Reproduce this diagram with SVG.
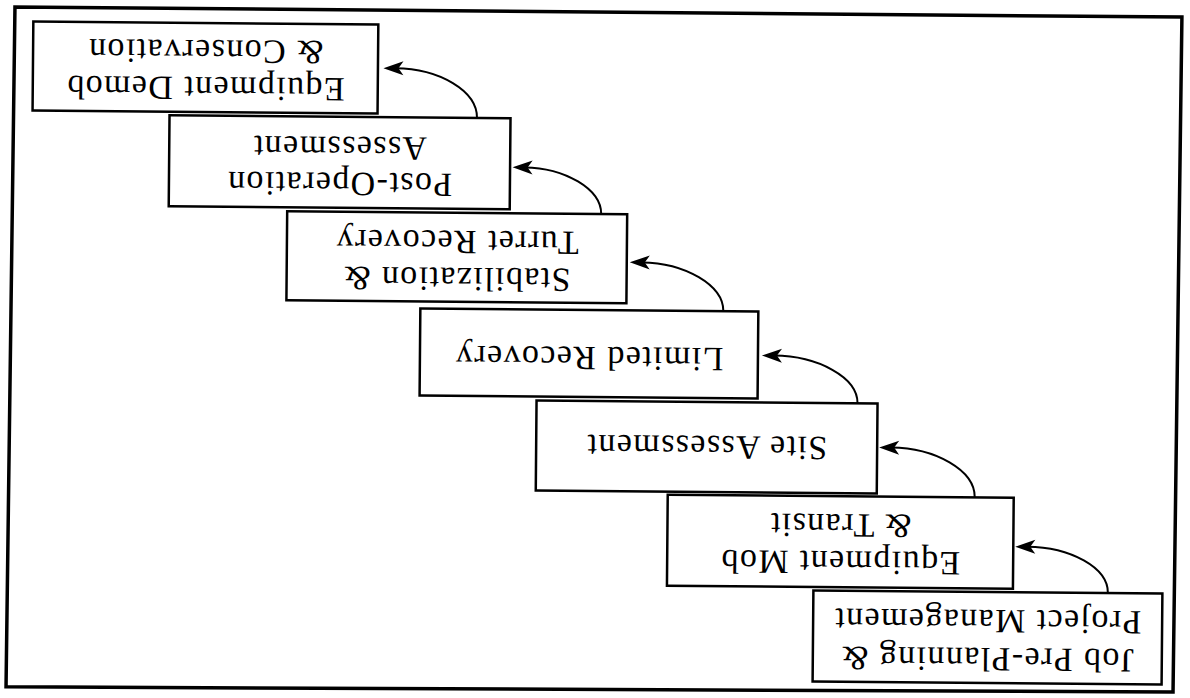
<svg xmlns="http://www.w3.org/2000/svg" width="1190" height="698" viewBox="0 0 1190 698">
  <style>
    .box { fill: #ffffff; stroke: #000000; stroke-width: 2.5; }
    .lbl { font-family: "Liberation Serif", "Times New Roman", serif; font-size: 34px; letter-spacing: 1.4px; text-anchor: middle; fill: #000000; }
    .conn { fill: none; stroke: #000000; stroke-width: 2; }
    .frame { fill: none; stroke: #000000; stroke-width: 3.5; stroke-linejoin: miter; }
  </style>
  <defs>
    <marker id="arrow" markerUnits="userSpaceOnUse" viewBox="-10 -9 24 18" markerWidth="24" markerHeight="18" refX="0" refY="0" orient="auto" overflow="visible">
      <path d="M12,0 L-8,-7 L-3,0 L-8,7 Z" fill="#000000"/>
    </marker>
  </defs>
  <rect x="0" y="0" width="1190" height="698" fill="#ffffff"/>
  <g transform="rotate(180.5 595 349)">
    <polygon class="frame" points="14,11 1181,6 1178,686 11,686"/>

    <g id="node-job">
      <rect class="box" x="25.5" y="18.5" width="349" height="91"/>
      <text class="lbl" x="200" y="53.5">Job Pre-Planning &amp;</text>
      <text class="lbl" x="200" y="91.5">Project Management</text>
    </g>
    <g id="node-mob">
      <rect class="box" x="175" y="113" width="346" height="91"/>
      <text class="lbl" x="348" y="149">Equipment Mob</text>
      <text class="lbl" x="348" y="186">&amp; Transit</text>
    </g>
    <g id="node-site">
      <rect class="box" x="312" y="207" width="341" height="90"/>
      <text class="lbl" x="482.5" y="263">Site Assessment</text>
    </g>
    <g id="node-limited">
      <rect class="box" x="432" y="301" width="338" height="87"/>
      <text class="lbl" x="601" y="351">Limited Recovery</text>
    </g>
    <g id="node-stab">
      <rect class="box" x="564" y="395" width="340" height="89"/>
      <text class="lbl" x="734" y="429">Stabilization &amp;</text>
      <text class="lbl" x="734" y="466">Turret Recovery</text>
    </g>
    <g id="node-post">
      <rect class="box" x="681.5" y="488" width="341" height="91"/>
      <text class="lbl" x="852" y="523">Post-Operation</text>
      <text class="lbl" x="852" y="559">Assessment</text>
    </g>
    <g id="node-demob">
      <rect class="box" x="814.5" y="582.5" width="345" height="89"/>
      <text class="lbl" x="987" y="617.5">Equipment Demob</text>
      <text class="lbl" x="987" y="654.5">&amp; Conservation</text>
    </g>

    <g id="connectors">
      <path class="conn" marker-end="url(#arrow)" d="M80,109.5 C80,135 118,155 161,155"/>
      <path class="conn" marker-end="url(#arrow)" d="M214,204 C214,231 254,253 298,253"/>
      <path class="conn" marker-end="url(#arrow)" d="M332,297 C332,323 372,344 416,344"/>
      <path class="conn" marker-end="url(#arrow)" d="M467,388 C467,414 506,436 549,436"/>
      <path class="conn" marker-end="url(#arrow)" d="M590,484 C590,509 627,530 667,530"/>
      <path class="conn" marker-end="url(#arrow)" d="M715,579 C715,606 753,628 797,628"/>
    </g>
  </g>
</svg>
